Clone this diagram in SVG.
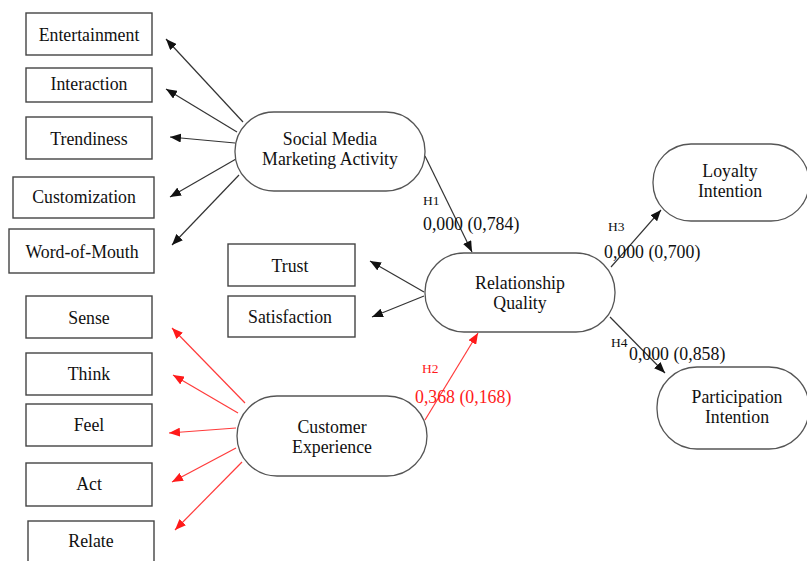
<svg xmlns="http://www.w3.org/2000/svg" width="807" height="561" viewBox="0 0 807 561">
  <defs>
    <style>
      text { font-family: "Liberation Serif", "Times New Roman", serif; font-size: 17.8px; fill: #111; }
      .c { text-anchor: middle; }
      .box { fill: #fff; stroke: #444; stroke-width: 1.4; }
      .node { fill: #fff; stroke: #555; stroke-width: 1.3; }
      .blk { stroke: #333; stroke-width: 1.2; fill: none; marker-end: url(#ab); }
      .red { stroke: #ff3b3b; stroke-width: 1.2; fill: none; marker-end: url(#ar); }
      .h { font-size: 13.5px; }
      .rt { fill: #ff1a1a; }
    </style>
    <marker id="ab" markerUnits="userSpaceOnUse" markerWidth="12" markerHeight="9" refX="11" refY="4.5" orient="auto">
      <path d="M0,0 L11,4.5 L0,9 z" fill="#111"/>
    </marker>
    <marker id="ar" markerUnits="userSpaceOnUse" markerWidth="12" markerHeight="9" refX="11" refY="4.5" orient="auto">
      <path d="M0,0 L11,4.5 L0,9 z" fill="#ff1a1a"/>
    </marker>
  </defs>

  <!-- connectors -->
  <g id="connectors">
    <!-- social media marketing indicators -->
    <line class="blk" x1="243" y1="122" x2="166" y2="39"/>
    <line class="blk" x1="237" y1="132" x2="166" y2="89"/>
    <line class="blk" x1="235" y1="143" x2="170" y2="137"/>
    <line class="blk" x1="236" y1="159" x2="170" y2="197"/>
    <line class="blk" x1="239" y1="175" x2="172" y2="245"/>
    <!-- relationship quality indicators -->
    <line class="blk" x1="424" y1="292" x2="370" y2="261"/>
    <line class="blk" x1="424" y1="296" x2="372" y2="317"/>
    <!-- customer experience indicators -->
    <line class="red" x1="245" y1="403" x2="172" y2="328"/>
    <line class="red" x1="238" y1="413" x2="173" y2="375"/>
    <line class="red" x1="236" y1="428" x2="169" y2="433"/>
    <line class="red" x1="236" y1="448" x2="172" y2="482"/>
    <line class="red" x1="242" y1="462" x2="175" y2="530"/>
    <!-- hypotheses -->
    <line class="blk" x1="425" y1="156" x2="472" y2="252"/>
    <line class="red" x1="425" y1="420" x2="478" y2="333"/>
    <line class="blk" x1="611" y1="267" x2="661" y2="210"/>
    <line class="blk" x1="610" y1="317" x2="665" y2="373"/>
  </g>

  <!-- path labels -->
  <g id="labels">
    <text class="h" x="423" y="205">H1</text>
    <text x="423" y="230">0,000 (0,784)</text>
    <text class="h rt" x="422" y="373">H2</text>
    <text class="rt" x="415" y="403">0,368 (0,168)</text>
    <text class="h" x="608" y="231">H3</text>
    <text x="604" y="258">0,000 (0,700)</text>
    <text class="h" x="611" y="347">H4</text>
    <text x="629" y="360">0,000 (0,858)</text>
  </g>

  <!-- indicator boxes -->
  <g id="entertainment"><rect class="box" x="26" y="13" width="126" height="42"/><text class="c" x="89" y="41">Entertainment</text></g>
  <g id="interaction"><rect class="box" x="26" y="68" width="126" height="34"/><text class="c" x="89" y="90">Interaction</text></g>
  <g id="trendiness"><rect class="box" x="26" y="117" width="126" height="42"/><text class="c" x="89" y="145">Trendiness</text></g>
  <g id="customization"><rect class="box" x="13" y="177" width="141" height="41"/><text class="c" x="84" y="203">Customization</text></g>
  <g id="word-of-mouth"><rect class="box" x="9" y="229" width="145" height="44"/><text class="c" x="82" y="258">Word-of-Mouth</text></g>

  <g id="trust"><rect class="box" x="228" y="244" width="127" height="42"/><text class="c" x="290" y="272">Trust</text></g>
  <g id="satisfaction"><rect class="box" x="228" y="296" width="127" height="41"/><text class="c" x="290" y="323">Satisfaction</text></g>

  <g id="sense"><rect class="box" x="26" y="296" width="126" height="42"/><text class="c" x="89" y="324">Sense</text></g>
  <g id="think"><rect class="box" x="26" y="353" width="126" height="42"/><text class="c" x="89" y="380">Think</text></g>
  <g id="feel"><rect class="box" x="26" y="404" width="126" height="42"/><text class="c" x="89" y="431">Feel</text></g>
  <g id="act"><rect class="box" x="26" y="463" width="126" height="43"/><text class="c" x="89" y="490">Act</text></g>
  <g id="relate"><rect class="box" x="28" y="521" width="126" height="50"/><text class="c" x="91" y="547">Relate</text></g>

  <!-- latent constructs -->
  <g id="smma"><rect class="node" x="235" y="112" width="190" height="79" rx="39" ry="39"/>
    <text class="c" x="330" y="145">Social Media</text><text class="c" x="330" y="165">Marketing Activity</text></g>
  <g id="relationship-quality"><rect class="node" x="425" y="253" width="190" height="79" rx="39" ry="39"/>
    <text class="c" x="520" y="289">Relationship</text><text class="c" x="520" y="309">Quality</text></g>
  <g id="customer-experience"><rect class="node" x="237" y="396" width="190" height="80" rx="40" ry="40"/>
    <text class="c" x="332" y="433">Customer</text><text class="c" x="332" y="453">Experience</text></g>
  <g id="loyalty-intention"><rect class="node" x="653" y="144" width="156" height="77" rx="38" ry="38"/>
    <text class="c" x="730" y="177">Loyalty</text><text class="c" x="730" y="197">Intention</text></g>
  <g id="participation-intention"><rect class="node" x="657" y="367" width="152" height="82" rx="40" ry="40"/>
    <text class="c" x="737" y="403">Participation</text><text class="c" x="737" y="423">Intention</text></g>
</svg>
